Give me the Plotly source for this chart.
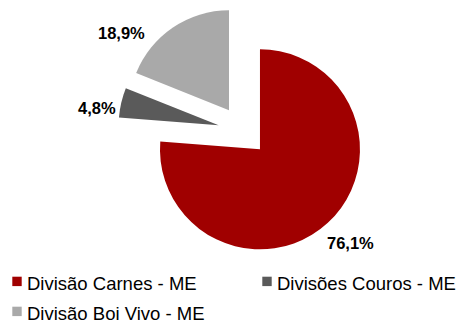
import plotly.graph_objects as go

# Revenue share by division (ME)
labels = ["Divisão Carnes - ME", "Divisões Couros - ME", "Divisão Boi Vivo - ME"]
shares = [76.1, 4.8, 18.9]
colors = ["#A00000", "#5A5A5A", "#A9A9A9"]

texts = [f"{v:.1f}%".replace(".", ",") for v in shares]

W, H = 462, 324
FONT = "Liberation Sans, Arial, sans-serif"

fig = go.Figure(
    go.Pie(
        labels=labels,
        values=shares,
        text=texts,
        textinfo="none",
        marker=dict(colors=colors, line=dict(width=0)),
        sort=False,
        direction="clockwise",
        rotation=0,
        pull=[0.25, 0.25, 0.25],
        showlegend=False,
        domain=dict(x=[118 / W, 368 / W], y=[1 - 256 / H, 1 - 6 / H]),
    )
)


def px(x, y):
    return x / W, 1 - y / H


annotations, shapes = [], []

# Percentage labels just outside each slice (pixel centres)
label_pos = [(350.5, 243.0), (97.0, 107.5), (121.5, 32.5)]
for t, (lx, ly) in zip(texts, label_pos):
    ax, ay = px(lx, ly)
    annotations.append(dict(
        text=t, xref="paper", yref="paper", x=ax, y=ay,
        xanchor="center", yanchor="middle", showarrow=False,
        font=dict(family=FONT, size=16.5, color="#000000", weight="bold"),
        borderpad=0,
    ))

# Legend: two entries per row, coloured square followed by the label
for i, (lab, col) in enumerate(zip(labels, colors)):
    row, c = divmod(i, 2)
    x0 = 12.3 + 250 * c
    y0 = 276.7 + 30 * row
    sx0, sy0 = px(x0, y0)
    sx1, sy1 = px(x0 + 9.4, y0 + 9.4)
    shapes.append(dict(
        type="rect", xref="paper", yref="paper",
        x0=sx0, x1=sx1, y0=sy0, y1=sy1,
        fillcolor=col, line=dict(width=0),
    ))
    tx, ty = px(x0 + 13.5, 283.6 + 29.8 * row)
    annotations.append(dict(
        text=lab, xref="paper", yref="paper", x=tx, y=ty,
        xanchor="left", yanchor="middle", showarrow=False,
        font=dict(family=FONT, size=18.5, color="#000000"),
        borderpad=0,
    ))

fig.update_layout(
    width=W,
    height=H,
    margin=dict(l=0, r=0, t=0, b=0, autoexpand=False),
    paper_bgcolor="white",
    plot_bgcolor="white",
    shapes=shapes,
    annotations=annotations,
)

fig.write_html("out.html")
